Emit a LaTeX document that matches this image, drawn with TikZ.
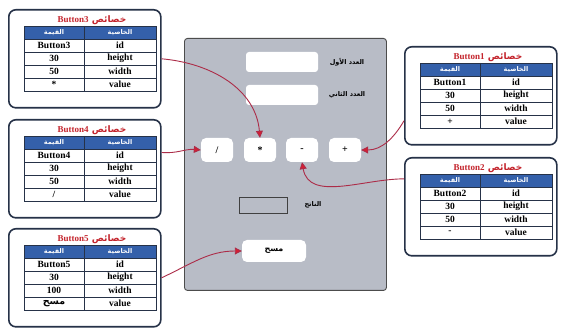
\documentclass[tikz,border=0pt]{standalone}
\usepackage{fontspec}
\setmainfont{Liberation Serif}
\newfontfamily\arabicfont[Script=Arabic]{DejaVu Sans}
\TeXXeTstate=1
\usetikzlibrary{arrows.meta, positioning, calc}
\definecolor{boxnavy}{RGB}{38,50,72}
\definecolor{headblue}{RGB}{52,96,170}
\definecolor{titlered}{RGB}{196,36,44}
\definecolor{panelgray}{RGB}{184,188,198}
\definecolor{linkred}{RGB}{172,44,72}
\definecolor{tipred}{RGB}{214,30,50}

\newcommand{\artext}[1]{{\arabicfont\bfseries\beginR #1\endR}}

% one properties card: name, x, y, id, height, width, value
\newcommand{\propbox}[8]{%
  \node[boxframe, anchor=north west] (#1) at (#2,#3) {};
  \begin{scope}[shift={(#2,#3)}]
    \node[boxtitle] at (84,11) {\artext{خصائص \beginL{\rmfamily\bfseries #4}\endL}};
    \fill[headblue] (16,17) rectangle (148,30);
    \foreach \yy in {30,43,56,69}
      \draw[tabline] (16,\yy) -- (148,\yy);
    \draw[tabline] (76,17) -- (76,82);
    \draw[tabline] (16,17) rectangle (148,82);
    \node[headtxt] at (46,23.5) {\artext{القيمة}};
    \node[headtxt] at (112,23.5) {\artext{الخاصية}};
    \node[celltxt] at (46,36.5) {#4};
    \node[celltxt] at (46,49.5) {#5};
    \node[celltxt] at (46,62.5) {#6};
    \node[celltxt] at (46,75.5) {#7};
    \node[celltxt] at (112,36.5) {id};
    \node[celltxt] at (112,49.5) {height};
    \node[celltxt] at (112,62.5) {width};
    \node[celltxt] at (112,75.5) {value};
  \end{scope}}

\tikzset{
  boxframe/.style={draw=boxnavy, line width=1.6pt, rounded corners=7pt, fill=white,
    minimum width=152pt, minimum height=#1, inner sep=0pt},
  boxframe/.default=98pt,
  boxtitle/.style={text=titlered, font=\fontsize{9}{10}\selectfont\bfseries},
  tabline/.style={draw=boxnavy, line width=0.7pt},
  headtxt/.style={text=white, font=\fontsize{6.5}{7}\selectfont},
  celltxt/.style={font=\fontsize{9.5}{10}\selectfont\bfseries, inner sep=0pt},
  panel/.style={draw=black!70, line width=0.9pt, fill=panelgray, rounded corners=3pt,
    minimum width=202pt, minimum height=252pt, inner sep=0pt},
  field/.style={fill=white, rounded corners=3pt, minimum width=72pt, minimum height=20pt, inner sep=0pt},
  calcbtn/.style={fill=white, rounded corners=5pt, minimum width=32pt, minimum height=24pt,
    inner sep=0pt, font=\fontsize{10}{11}\selectfont\bfseries},
  lbl/.style={font=\fontsize{6.5}{7}\selectfont},
  link/.style={draw=linkred, line width=0.9pt, -{Triangle[length=7pt,width=7pt,fill=tipred]}}
}

\begin{document}
\begin{tikzpicture}[x=1pt, y=-1pt]
  \useasboundingbox (0,0) rectangle (562,336);
  \fill[white] (0,0) rectangle (562,336);

  % the form
  \node[panel, anchor=north west] (panel) at (184,38) {};
  \node[field] (first) at (282,62) {};
  \node[lbl] (firstlbl) at (347,62) {\artext{العدد الأول}};
  \node[field] (second) at (282,95) {};
  \node[lbl] (secondlbl) at (347,95) {\artext{العدد الثاني}};
  \node[calcbtn] (div) at (217,150) {/};
  \node[calcbtn] (mul) at (260,150) {*};
  \node[calcbtn] (minus) at (302,150) {-};
  \node[calcbtn] (plus) at (345,150) {+};
  \node[draw=black!75, line width=0.9pt, minimum width=48pt, minimum height=16pt] (result) at (263,205) {};
  \node[lbl] (resultlbl) at (313,205) {\artext{الناتج}};
  \node[calcbtn, minimum width=64pt, minimum height=22pt, font=\fontsize{8}{9}\selectfont] (clear) at (274,251) {\artext{مسح}};

  % property cards
  \propbox{box3}{8}{9}{Button3}{30}{50}{*}{}
  \propbox{box4}{8}{119}{Button4}{30}{50}{/}{}
  \propbox{box5}{8}{228}{Button5}{30}{100}{\artext{مسح}}{}
  \propbox{box1}{404}{46}{Button1}{30}{50}{+}{}
  \propbox{box2}{404}{157}{Button2}{30}{50}{-}{}

  % links
  \draw[link] (box3.east) to[out=-5,in=95] (mul.north);
  \draw[link] (box4.12) to[out=-5,in=175] (div.west);
  \draw[link] (box5.east) to[out=25,in=180] (clear.west);
  \draw[link] (box1.198) to[out=240,in=0] (plus.east);
  \draw[link] (box2.160) to[out=180,in=-80] (minus.south);
\end{tikzpicture}
\end{document}
